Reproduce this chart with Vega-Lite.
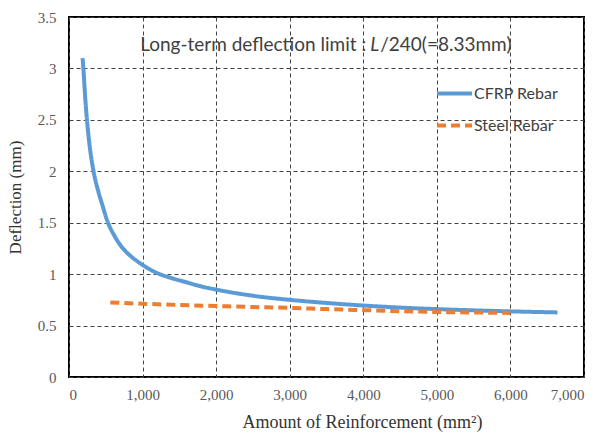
{
  "$schema": "https://vega.github.io/schema/vega-lite/v6.json",
  "width": 515,
  "height": 360,
  "autosize": "none",
  "padding": {"left": 69, "top": 17, "right": 27, "bottom": 56},
  "background": "white",
  "config": {
    "view": {"stroke": "#000000", "strokeWidth": 2},
    "axis": {
      "domain": false,
      "ticks": false,
      "grid": true,
      "gridColor": "#444444",
      "gridDash": [4, 3],
      "gridWidth": 1,
      "labelFont": "Liberation Serif",
      "labelFontSize": 15,
      "labelColor": "#595959",
      "titleFont": "Liberation Serif",
      "titleFontWeight": "normal",
      "titleColor": "#333333"
    }
  },
  "data": {
    "values": [
      {"area": 185, "deflection": 3.10, "series": "CFRP Rebar"},
      {"area": 200, "deflection": 2.95, "series": "CFRP Rebar"},
      {"area": 220, "deflection": 2.72, "series": "CFRP Rebar"},
      {"area": 244, "deflection": 2.50, "series": "CFRP Rebar"},
      {"area": 280, "deflection": 2.25, "series": "CFRP Rebar"},
      {"area": 334, "deflection": 2.00, "series": "CFRP Rebar"},
      {"area": 400, "deflection": 1.80, "series": "CFRP Rebar"},
      {"area": 450, "deflection": 1.68, "series": "CFRP Rebar"},
      {"area": 530, "deflection": 1.50, "series": "CFRP Rebar"},
      {"area": 620, "deflection": 1.37, "series": "CFRP Rebar"},
      {"area": 700, "deflection": 1.28, "series": "CFRP Rebar"},
      {"area": 800, "deflection": 1.20, "series": "CFRP Rebar"},
      {"area": 900, "deflection": 1.14, "series": "CFRP Rebar"},
      {"area": 1000, "deflection": 1.09, "series": "CFRP Rebar"},
      {"area": 1200, "deflection": 1.01, "series": "CFRP Rebar"},
      {"area": 1400, "deflection": 0.96, "series": "CFRP Rebar"},
      {"area": 1600, "deflection": 0.92, "series": "CFRP Rebar"},
      {"area": 1800, "deflection": 0.88, "series": "CFRP Rebar"},
      {"area": 2000, "deflection": 0.85, "series": "CFRP Rebar"},
      {"area": 2500, "deflection": 0.79, "series": "CFRP Rebar"},
      {"area": 3000, "deflection": 0.75, "series": "CFRP Rebar"},
      {"area": 3500, "deflection": 0.72, "series": "CFRP Rebar"},
      {"area": 4000, "deflection": 0.695, "series": "CFRP Rebar"},
      {"area": 4500, "deflection": 0.675, "series": "CFRP Rebar"},
      {"area": 5000, "deflection": 0.66, "series": "CFRP Rebar"},
      {"area": 5500, "deflection": 0.648, "series": "CFRP Rebar"},
      {"area": 6000, "deflection": 0.638, "series": "CFRP Rebar"},
      {"area": 6640, "deflection": 0.628, "series": "CFRP Rebar"},
      {"area": 562, "deflection": 0.725, "series": "Steel Rebar"},
      {"area": 1000, "deflection": 0.712, "series": "Steel Rebar"},
      {"area": 1500, "deflection": 0.70, "series": "Steel Rebar"},
      {"area": 2000, "deflection": 0.69, "series": "Steel Rebar"},
      {"area": 2500, "deflection": 0.68, "series": "Steel Rebar"},
      {"area": 3000, "deflection": 0.672, "series": "Steel Rebar"},
      {"area": 3500, "deflection": 0.66, "series": "Steel Rebar"},
      {"area": 4000, "deflection": 0.65, "series": "Steel Rebar"},
      {"area": 4500, "deflection": 0.64, "series": "Steel Rebar"},
      {"area": 5000, "deflection": 0.632, "series": "Steel Rebar"},
      {"area": 5500, "deflection": 0.627, "series": "Steel Rebar"},
      {"area": 6000, "deflection": 0.623, "series": "Steel Rebar"}
    ]
  },
  "layer": [
    {
      "mark": {"type": "line", "interpolate": "monotone", "strokeWidth": 4, "strokeCap": "butt"},
      "encoding": {
        "x": {
          "field": "area", "type": "quantitative",
          "scale": {"domain": [0, 7000], "nice": false},
          "axis": {"values": [0, 1000, 2000, 3000, 4000, 5000, 6000, 7000], "format": ",d", "labelPadding": 10,
                   "title": "Amount of Reinforcement (mm²)", "titleFontSize": 18, "titlePadding": 11, "titleX": 293}
        },
        "y": {
          "field": "deflection", "type": "quantitative",
          "scale": {"domain": [0, 3.5], "nice": false},
          "axis": {"values": [0, 0.5, 1, 1.5, 2, 2.5, 3, 3.5], "format": ".1~f", "labelPadding": 13,
                   "title": "Deflection (mm)", "titleFontSize": 17, "titlePadding": 13}
        },
        "color": {
          "field": "series", "type": "nominal",
          "scale": {"domain": ["CFRP Rebar", "Steel Rebar"], "range": ["#5B9BD5", "#ED7D31"]},
          "legend": {
            "title": null, "orient": "none", "legendX": 366, "legendY": 57,
            "symbolType": "stroke", "symbolSize": 1225, "symbolStrokeWidth": 4,
            "labelFont": "Lato", "labelFontSize": 16, "labelColor": "#404040",
            "labelOffset": 0, "rowPadding": 4
          }
        },
        "strokeDash": {
          "field": "series", "type": "nominal",
          "scale": {"domain": ["CFRP Rebar", "Steel Rebar"], "range": [[1, 0], [9, 5]]},
          "legend": {
            "title": null, "orient": "none", "legendX": 366, "legendY": 57,
            "symbolType": "stroke", "symbolSize": 1225, "symbolStrokeWidth": 4,
            "labelFont": "Lato", "labelFontSize": 16, "labelColor": "#404040",
            "labelOffset": 0, "rowPadding": 4
          }
        }
      }
    },
    {
      "data": {"values": [{"area": 4230, "deflection": 3.23, "label": "Long-term deflection limit :"}]},
      "mark": {"type": "text", "font": "Lato", "fontSize": 19, "color": "#404040", "align": "right", "baseline": "middle", "dx": -14},
      "encoding": {
        "x": {"field": "area", "type": "quantitative"},
        "y": {"field": "deflection", "type": "quantitative"},
        "text": {"field": "label"}
      }
    },
    {
      "data": {"values": [{"area": 4230, "deflection": 3.23, "label": "L"}]},
      "mark": {"type": "text", "font": "Lato", "fontSize": 19, "fontStyle": "italic", "color": "#404040", "align": "right", "baseline": "middle", "dx": -1},
      "encoding": {
        "x": {"field": "area", "type": "quantitative"},
        "y": {"field": "deflection", "type": "quantitative"},
        "text": {"field": "label"}
      }
    },
    {
      "data": {"values": [{"area": 4230, "deflection": 3.23, "label": "/240(=8.33mm)"}]},
      "mark": {"type": "text", "font": "Lato", "fontSize": 19, "color": "#404040", "align": "left", "baseline": "middle"},
      "encoding": {
        "x": {"field": "area", "type": "quantitative"},
        "y": {"field": "deflection", "type": "quantitative"},
        "text": {"field": "label"}
      }
    }
  ]
}
